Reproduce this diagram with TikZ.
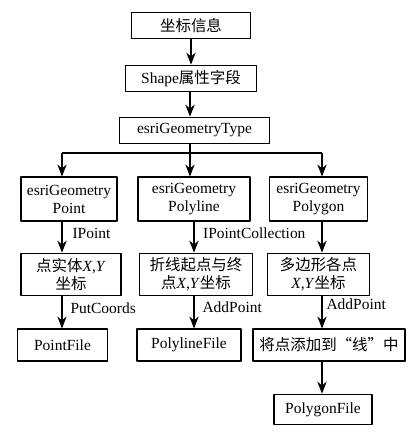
\documentclass[tikz,border=0pt]{standalone}
\usepackage{fontspec}
\setmainfont{Liberation Serif}
\newfontfamily\cjk{Noto Sans CJK SC}
\usetikzlibrary{arrows.meta,positioning}

\tikzset{
  box/.style={draw, line width=0.8pt, inner sep=1pt, align=center, font=\fontsize{11.6}{13.5}\selectfont},
  arr/.style={line width=0.8pt, -{Stealth[length=9pt,width=7pt]}},
  lbl/.style={anchor=west, inner sep=0pt, font=\fontsize{11.6}{13.5}\selectfont}
}

\begin{document}
\begin{tikzpicture}[x=0.75pt, y=-0.75pt, line join=round]
    \useasboundingbox (0,0) rectangle (413,436);
    % column positions
    \coordinate (colL) at (62,0);
    \coordinate (colM) at (190,0);
    \coordinate (colN) at (194,0);
    \coordinate (colR) at (322,0);
    \coordinate (split) at (190,153);
    % top chain
    \node[box, minimum width=89pt, minimum height=20pt] (info) at (191,25.5) {{\cjk 坐标信息}};
    \node[box, minimum width=98pt, minimum height=20pt] (shape) at (191,78.5) {Shape{\cjk 属性字段}};
    \node[box, minimum width=113pt, minimum height=20pt] (type) at (194.5,130.5) {esriGeometryType};
    % geometry types
    \node[box, minimum width=72pt, minimum height=33pt] (pt) at (69,199) {esriGeometry\\Point};
    \node[box, minimum width=84pt, minimum height=33pt] (pl) at (194,199) {esriGeometry\\Polyline};
    \node[box, minimum width=74pt, minimum height=33pt] (pg) at (318.5,199) {esriGeometry\\Polygon};
    % coordinates
    \node[box, minimum width=75pt, minimum height=32pt] (ptxy) at (71,274.5) {{\cjk 点实体}\textit{X},\textit{Y}\\{\cjk 坐标}};
    \node[box, minimum width=85pt, minimum height=32pt] (plxy) at (196,274.5) {{\cjk 折线起点与终}\\{\cjk 点}\textit{X},\textit{Y}{\cjk 坐标}};
    \node[box, minimum width=76pt, minimum height=32pt] (pgxy) at (318.5,274.5) {{\cjk 多边形各点}\\\textit{X},\textit{Y}{\cjk 坐标}};
    % files
    \node[box, minimum width=67pt, minimum height=24pt] (ptf) at (62.5,345) {PointFile};
    \node[box, minimum width=78pt, minimum height=24pt] (plf) at (189,345) {PolylineFile};
    \node[box, minimum width=114pt, minimum height=24pt] (addl) at (329,345) {{\cjk 将点添加到“线”中}};
    \node[box, minimum width=73.5pt, minimum height=23pt] (pgf) at (323,409.5) {PolygonFile};

    \draw[arr] (info) -- (shape);
    \draw[arr] (shape.south -| colM) -- (type.north -| colM);
    \draw[line width=0.8pt] (type.south -| colM) -- (split);
    \draw[line width=0.8pt] (split -| colL) -- (split -| colR);
    \draw[arr] (split -| colL) -- (pt.north -| colL);
    \draw[arr] (split) -- (pl.north -| colM);
    \draw[arr] (split -| colR) -- (pg.north -| colR);

    \draw[arr] (pt.south -| colL) -- (ptxy.north -| colL) node[lbl, midway, xshift=7.5pt, yshift=3pt] {IPoint};
    \draw[arr] (pl.south -| colN) -- (plxy.north -| colN) node[lbl, midway, xshift=6.5pt, yshift=3pt] {IPointCollection};
    \draw[arr] (pg.south -| colR) -- (pgxy.north -| colR);

    \draw[arr] (ptxy.south -| colL) -- (ptf.north -| colL) node[lbl, midway, xshift=6pt, yshift=3pt] {PutCoords};
    \draw[arr] (plxy.south -| colN) -- (plf.north -| colN) node[lbl, midway, xshift=6pt, yshift=4pt] {AddPoint};
    \draw[arr] (pgxy.south -| colR) -- (addl.north -| colR) node[lbl, midway, xshift=3pt, yshift=6pt] {AddPoint};
    \draw[arr] (addl.south -| colR) -- (pgf.north -| colR);
\end{tikzpicture}
\end{document}
